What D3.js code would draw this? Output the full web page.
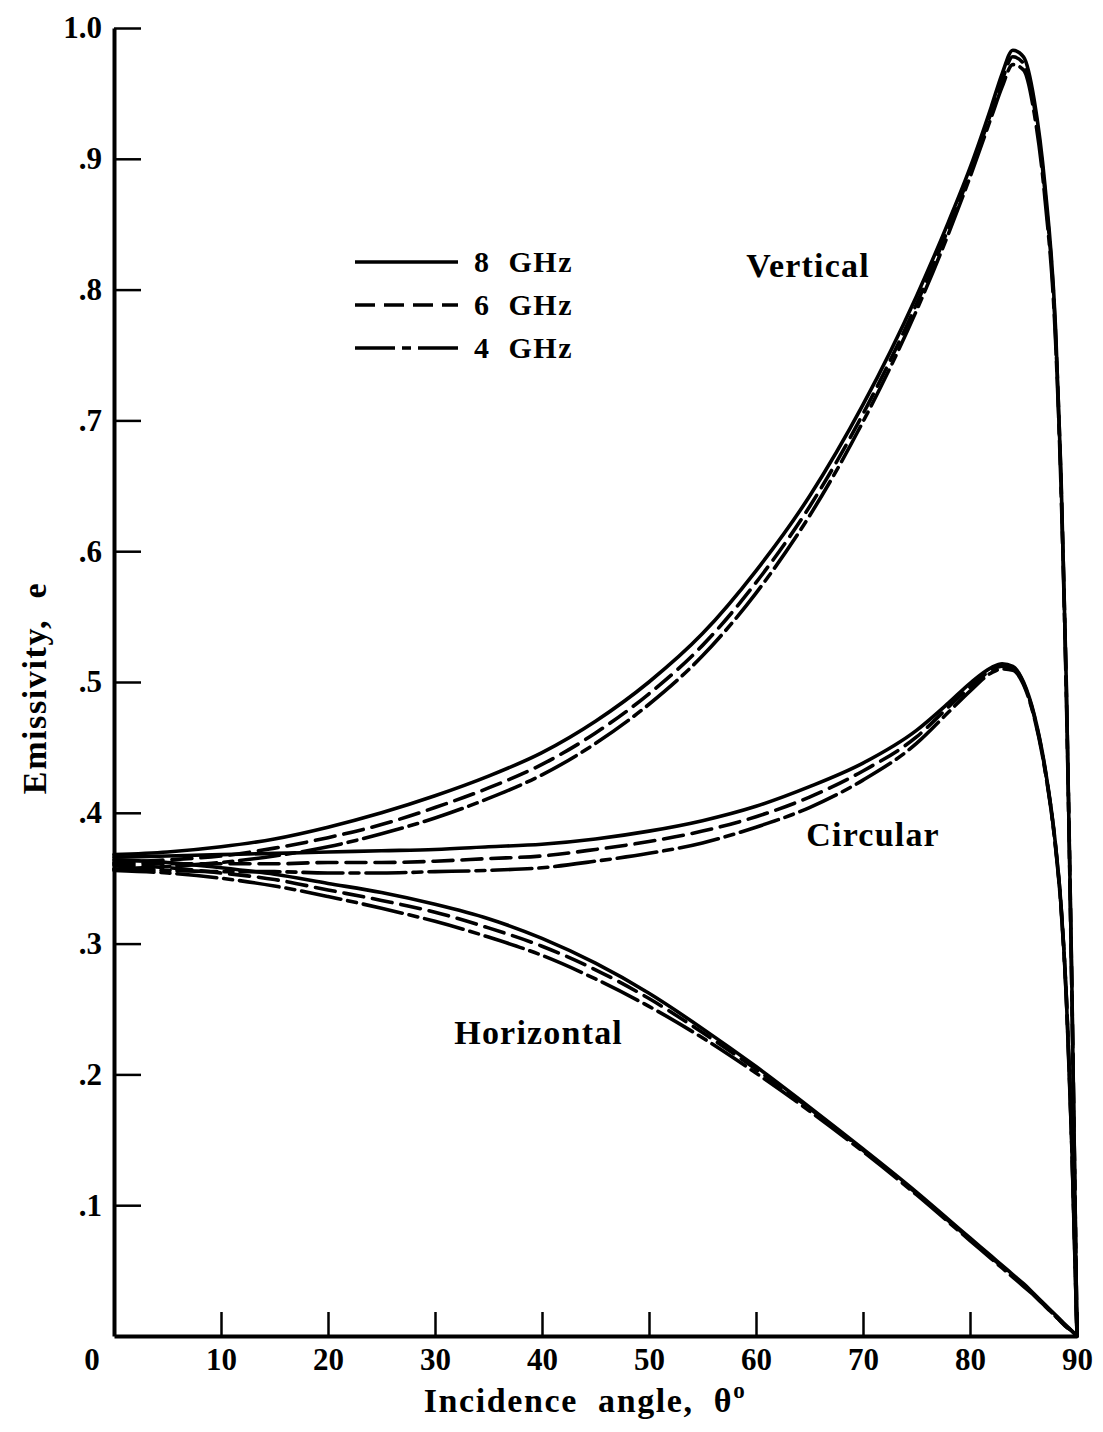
<!DOCTYPE html>
<html>
<head>
<meta charset="utf-8">
<script src="https://cdn.jsdelivr.net/npm/d3@7"></script>
<style>
  body { margin: 0; background: #fff; }
  svg text { font-family: "Liberation Serif", "Times New Roman", serif; font-weight: bold; fill: #000; white-space: pre; }
</style>
</head>
<body>
<div id="chart"></div>
<script>
// incidence angles (deg) shared by every curve
var angles = [0, 5, 10, 15, 20, 25, 30, 35, 40, 45, 50, 55, 60, 65, 70, 75, 78, 80, 82, 83, 84, 85, 86, 87, 88, 88.5, 89, 89.5, 90];

// vertical polarization
var vert8 = [.368, .370, .374, .380, .389, .400, .413, .428, .446, .470, .500, .537, .585, .642, .712, .795, .852, .893, .940, .965, .983, .978, .945, .880, .770, .660, .500, .280, 0];
var vert6 = [.362, .364, .367, .373, .381, .391, .404, .419, .437, .461, .491, .528, .576, .634, .705, .789, .847, .889, .936, .960, .978, .973, .940, .875, .765, .655, .495, .275, 0];
var vert4 = [.357, .359, .362, .367, .374, .384, .396, .411, .429, .453, .483, .520, .568, .627, .699, .784, .843, .886, .932, .955, .972, .968, .935, .870, .760, .650, .490, .270, 0];

// circular polarization
var circ8 = [.366, .367, .368, .369, .370, .371, .372, .374, .376, .380, .386, .394, .405, .420, .438, .463, .484, .499, .511, .514, .512, .500, .475, .435, .375, .330, .260, .150, 0];
var circ6 = [.361, .361, .361, .361, .362, .362, .363, .365, .367, .372, .378, .386, .397, .412, .432, .458, .481, .496, .509, .512, .511, .499, .474, .434, .374, .330, .260, .150, 0];
var circ4 = [.357, .356, .355, .355, .354, .354, .355, .356, .358, .363, .369, .377, .389, .404, .425, .453, .477, .493, .507, .510, .509, .498, .473, .433, .373, .328, .258, .148, 0];

// horizontal polarization
var horz8 = [.364, .362, .358, .353, .346, .339, .330, .319, .304, .285, .262, .235, .206, .175, .143, .110, .089, .075, .061, .054, .047, .040, .032, .024, .016, .012, .008, .004, 0];
var horz6 = [.360, .358, .354, .349, .341, .333, .324, .312, .298, .280, .258, .232, .204, .174, .142, .109, .088, .074, .060, .053, .046, .039, .031, .023, .015, .011, .007, .004, 0];
var horz4 = [.356, .354, .350, .344, .336, .327, .317, .305, .291, .273, .252, .228, .201, .172, .141, .108, .087, .073, .059, .052, .045, .038, .031, .023, .015, .011, .007, .004, 0];

var xTicks = [10, 20, 30, 40, 50, 60, 70, 80, 90];
var yTicks = [.1, .2, .3, .4, .5, .6, .7, .8, .9, 1.0];
var yTickLabels = [".1", ".2", ".3", ".4", ".5", ".6", ".7", ".8", ".9", "1.0"];

var freqs = ["8  GHz", "6  GHz", "4  GHz"];
var dashes = [null, "20,9", "40,7,9,7"];

var curveLabels = [
  {text: "Vertical", at: [59.1, .81]},
  {text: "Circular", at: [64.7, .375]},
  {text: "Horizontal", at: [31.8, .223]}
];

var series = [
  {f: 0, v: vert8}, {f: 1, v: vert6}, {f: 2, v: vert4},
  {f: 0, v: circ8}, {f: 1, v: circ6}, {f: 2, v: circ4},
  {f: 0, v: horz8}, {f: 1, v: horz6}, {f: 2, v: horz4}
];

var W = 1103, H = 1432;
var svg = d3.select("#chart").append("svg").attr("width", W).attr("height", H);

var x = d3.scaleLinear().domain([0, 90]).range([114, 1077]);
var y = d3.scaleLinear().domain([0, 1]).range([1336, 28]);

var line = d3.line()
    .x(function(d) { return x(d[0]); })
    .y(function(d) { return y(d[1]); })
    .curve(d3.curveMonotoneX);

// curves
series.forEach(function(s) {
  var pts = angles.map(function(a, i) { return [a, s.v[i]]; });
  svg.append("path")
      .attr("d", line(pts))
      .attr("fill", "none")
      .attr("stroke", "#000")
      .attr("stroke-width", 3.6)
      .attr("stroke-linecap", "round")
      .attr("stroke-dasharray", dashes[s.f]);
});

// axes
var xAxis = svg.append("g")
    .attr("transform", "translate(0," + y(0) + ")")
    .call(d3.axisBottom(x).tickValues(xTicks).tickSizeInner(-24).tickSizeOuter(0).tickPadding(12));
xAxis.select(".domain").attr("stroke-width", 4);
xAxis.selectAll(".tick line").attr("stroke-width", 2.5);
xAxis.selectAll(".tick text").style("font-size", "31px").attr("fill", "#000");

var yAxis = svg.append("g")
    .attr("transform", "translate(" + x(0) + ",0)")
    .call(d3.axisLeft(y).tickValues(yTicks).tickSizeInner(-27).tickSizeOuter(0).tickPadding(12)
      .tickFormat(function(d, i) { return yTickLabels[i]; }));
yAxis.select(".domain").attr("stroke-width", 4);
yAxis.selectAll(".tick line").attr("stroke-width", 2.5);
yAxis.selectAll(".tick text").style("font-size", "31px").attr("fill", "#000");

// shared origin label
svg.append("text")
    .attr("x", x(0) - 22)
    .attr("y", y(0) + 34)
    .attr("text-anchor", "middle")
    .style("font-size", "31px")
    .text("0");

// axis titles
var xt = svg.append("text")
    .attr("x", 585)
    .attr("y", 1412)
    .attr("text-anchor", "middle")
    .style("font-size", "34px")
    .style("letter-spacing", "1.6px")
    .text("Incidence  angle,  θ");
xt.append("tspan").attr("dy", -14).style("font-size", "23px").text("o");

svg.append("text")
    .attr("transform", "translate(46,688) rotate(-90)")
    .attr("text-anchor", "middle")
    .style("font-size", "34px")
    .style("letter-spacing", "1.6px")
    .text("Emissivity,  e");

// legend
var legend = svg.append("g");
freqs.forEach(function(f, i) {
  var ly = 262 + i * 43;
  legend.append("line")
      .attr("x1", 355).attr("x2", 458)
      .attr("y1", ly).attr("y2", ly)
      .attr("stroke", "#000")
      .attr("stroke-width", 3.6)
      .attr("stroke-dasharray", dashes[i]);
  legend.append("text")
      .attr("x", 474)
      .attr("y", ly + 10)
      .style("font-size", "30px")
      .style("letter-spacing", "1.5px")
      .text(f);
});

// curve names
curveLabels.forEach(function(c) {
  svg.append("text")
      .attr("x", x(c.at[0]))
      .attr("y", y(c.at[1]))
      .style("font-size", "34px")
      .style("letter-spacing", "1.2px")
      .text(c.text);
});
</script>
</body>
</html>
